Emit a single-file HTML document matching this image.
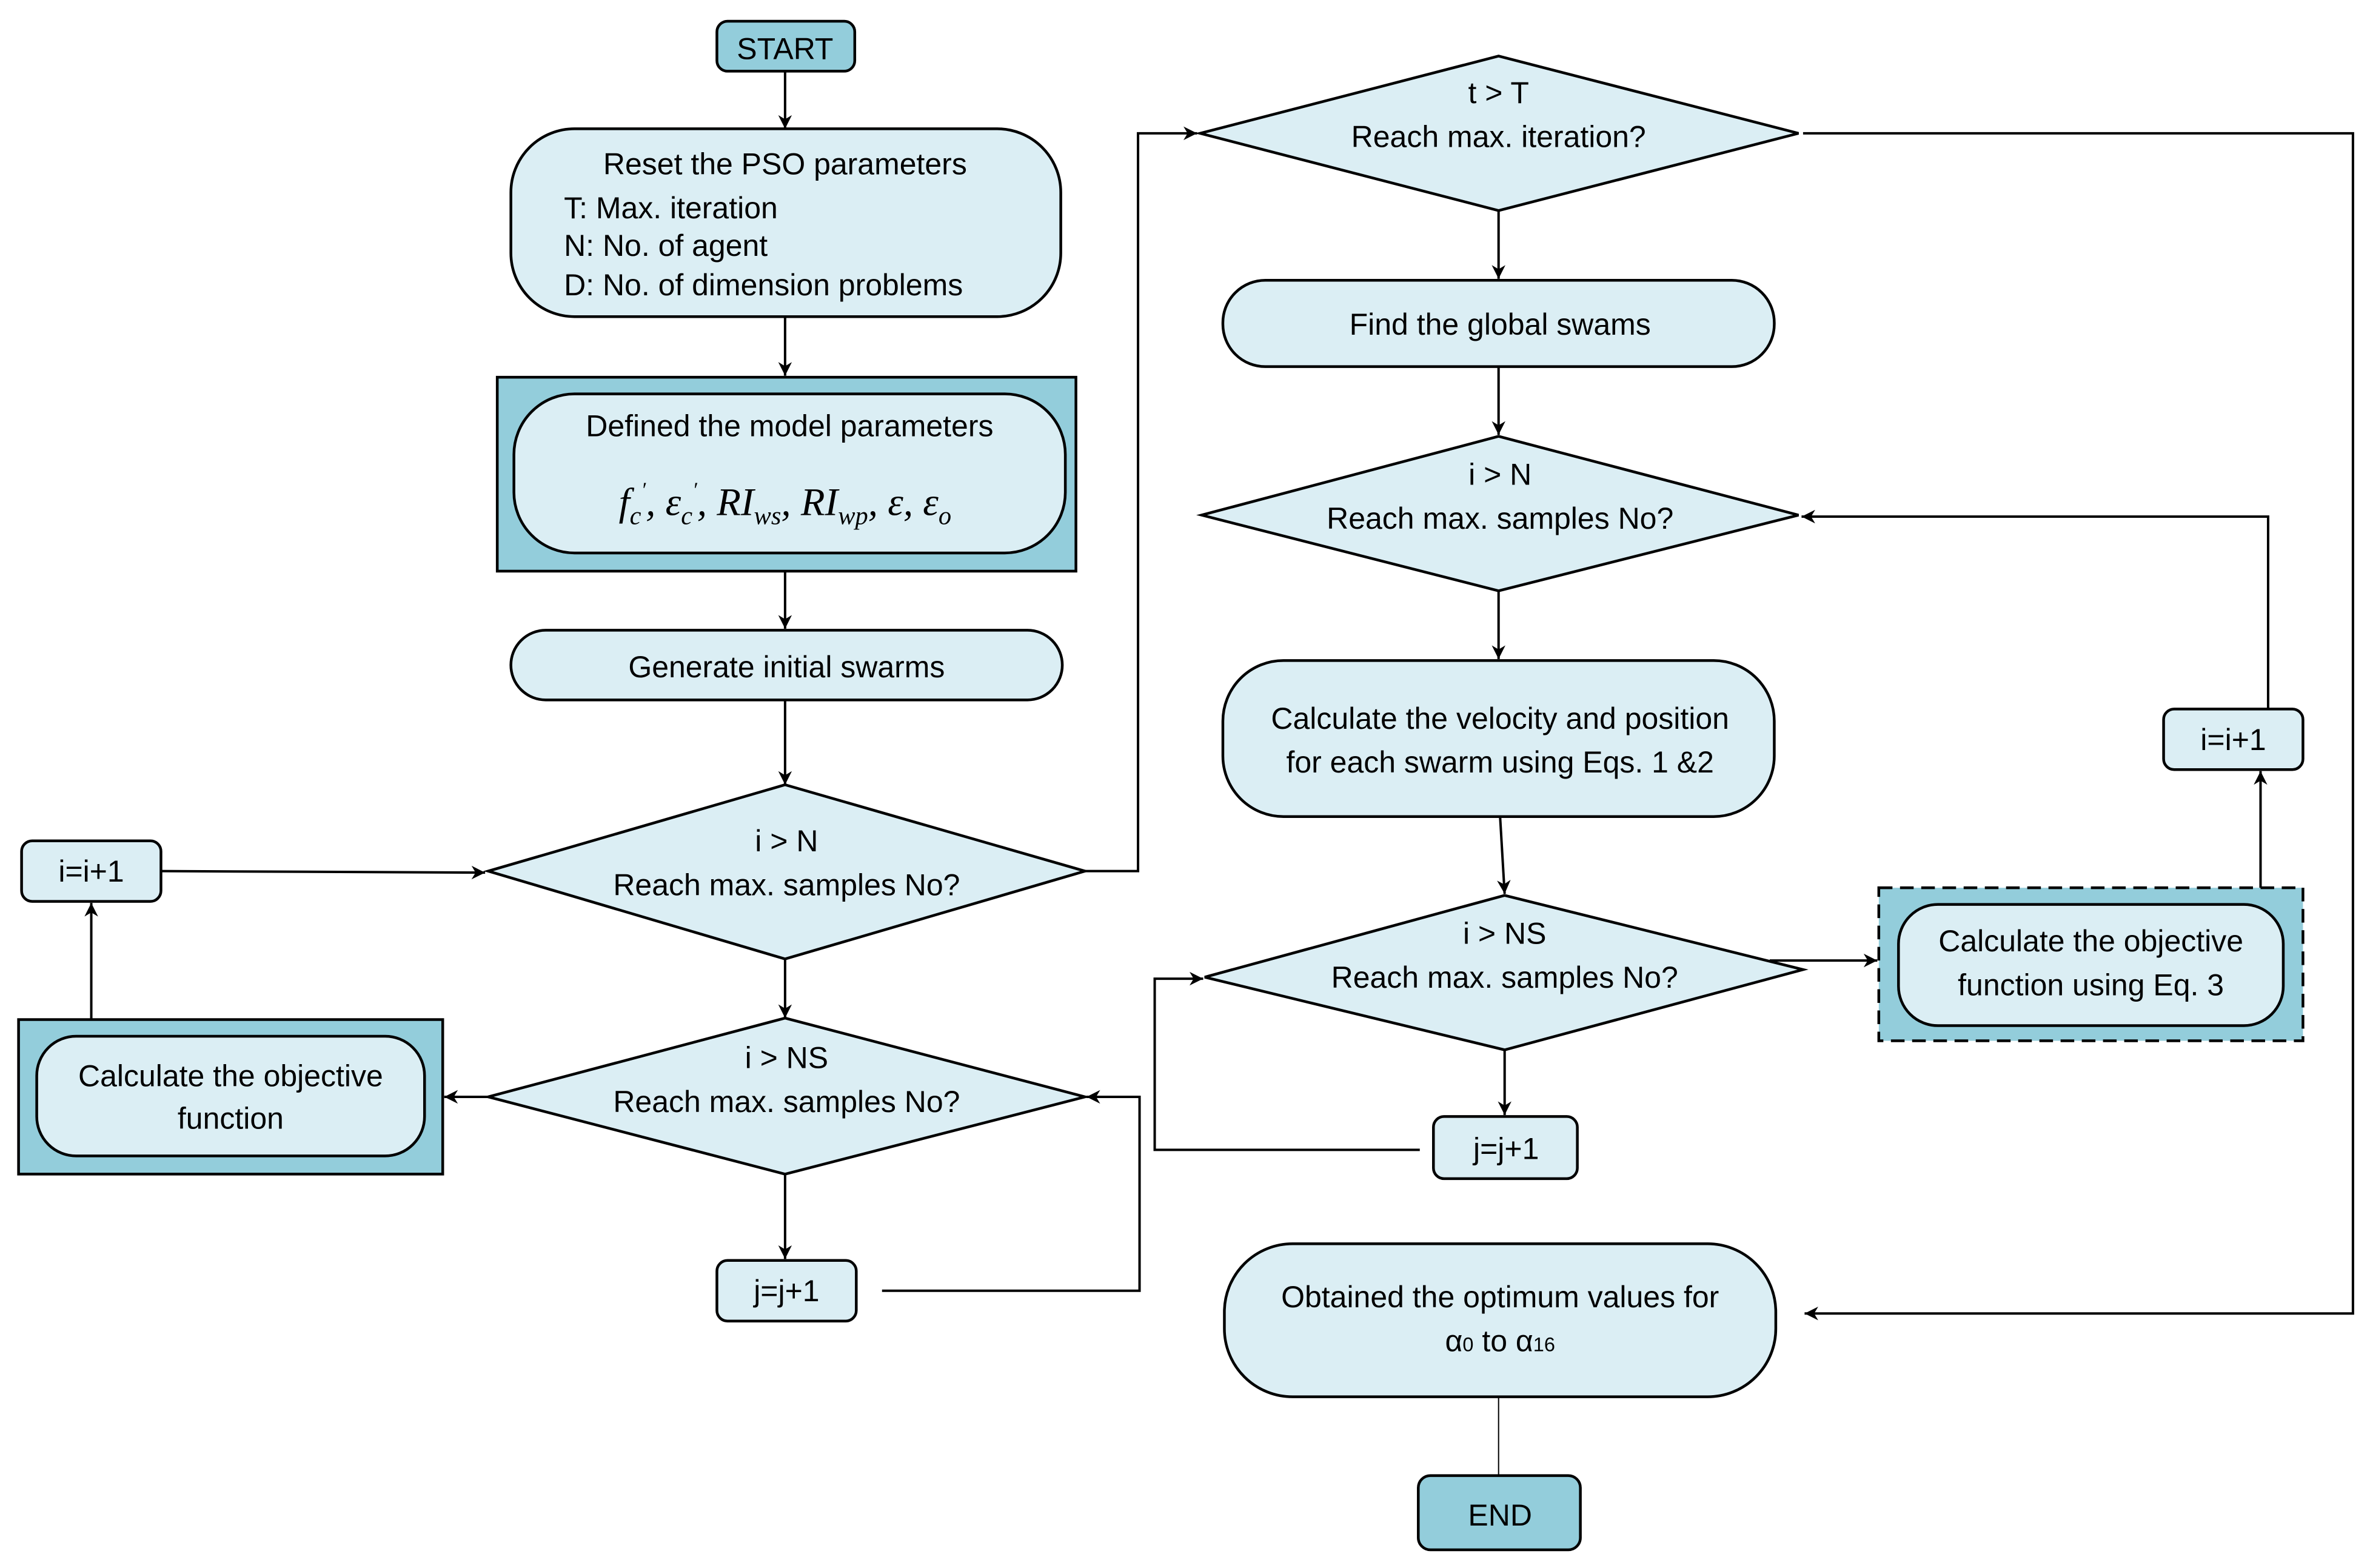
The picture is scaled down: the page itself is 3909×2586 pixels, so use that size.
<!DOCTYPE html>
<html><head><meta charset="utf-8"><style>
html,body{margin:0;padding:0;background:#fff;}
svg{display:block;}
text{font-family:"Liberation Sans Narrow","Liberation Sans",sans-serif;font-size:20px;fill:#000;text-anchor:middle;}
.l{text-anchor:start;}
.b{fill:#dbeef4;stroke:#000;stroke-width:1.8;}
.d{fill:#93cddb;stroke:#000;stroke-width:1.8;}
.c{fill:none;stroke:#000;stroke-width:1.6;}
</style></head><body>
<svg width="3909" height="2586" viewBox="0 0 1564 1035" xmlns="http://www.w3.org/2000/svg">
<defs><marker id="a" viewBox="0 0 10 10" refX="10" refY="5" markerWidth="6" markerHeight="6" markerUnits="userSpaceOnUse" orient="auto"><path d="M0,0 L10,5 L0,10 L3,5 z" fill="#000"/></marker>
<marker id="m" viewBox="0 0 10 10" refX="10" refY="5" markerWidth="9" markerHeight="9" markerUnits="userSpaceOnUse" orient="auto"><path d="M0,0 L10,5 L0,10 L3,5 z" fill="#000"/></marker></defs>

<!-- START -->
<rect class="d" x="473" y="14" width="91" height="33" rx="7"/>
<text x="518" y="39">START</text>
<line class="c" x1="518" y1="47" x2="518" y2="85" marker-end="url(#m)"/>

<rect class="b" x="337" y="85" width="363" height="124" rx="42"/>
<text x="518" y="115">Reset the PSO parameters</text>
<text class="l" x="372" y="144">T: Max. iteration</text>
<text class="l" x="372" y="169">N: No. of agent</text>
<text class="l" x="372" y="195">D: No. of dimension problems</text>
<line class="c" x1="518" y1="209" x2="518" y2="248" marker-end="url(#m)"/>

<rect class="d" x="328" y="249" width="382" height="128"/>
<rect class="b" x="339" y="260" width="364" height="105" rx="40"/>
<text x="521" y="288">Defined the model parameters</text>
<text x="518" y="340" style="font-family:'Liberation Serif',serif;font-style:italic;font-size:26px">f<tspan font-size="17" dy="6">c</tspan><tspan font-size="14" dy="-18">′</tspan><tspan dy="12">, ε</tspan><tspan font-size="17" dy="6">c</tspan><tspan font-size="14" dy="-18">′</tspan><tspan dy="12">, RI</tspan><tspan font-size="17" dy="6">ws</tspan><tspan dy="-6">, RI</tspan><tspan font-size="17" dy="6">wp</tspan><tspan dy="-6">, ε, ε</tspan><tspan font-size="17" dy="6">o</tspan></text>
<line class="c" x1="518" y1="377" x2="518" y2="415" marker-end="url(#m)"/>

<rect class="b" x="337" y="416" width="364" height="46" rx="23"/>
<text x="519" y="447">Generate initial swarms</text>
<line class="c" x1="518" y1="462" x2="518" y2="518" marker-end="url(#m)"/>

<polygon class="b" points="518,518 716,575 518,633 322,575"/>
<text x="519" y="562">i &gt; N</text>
<text x="519" y="591">Reach max. samples No?</text>

<rect class="b" x="14" y="555" width="92" height="40" rx="7"/>
<text x="60" y="582">i=i+1</text>
<line class="c" x1="106" y1="575" x2="320" y2="576" marker-end="url(#m)"/>

<line class="c" x1="518" y1="633" x2="518" y2="672" marker-end="url(#m)"/>
<polygon class="b" points="518,672 716,724 518,775 322,724"/>
<text x="519" y="705">i &gt; NS</text>
<text x="519" y="734">Reach max. samples No?</text>

<rect class="d" x="12" y="673" width="280" height="102"/>
<rect class="b" x="24" y="684" width="256" height="79" rx="26"/>
<text x="152" y="717">Calculate the objective</text>
<text x="152" y="745">function</text>
<line class="c" x1="322" y1="724" x2="293" y2="724" marker-end="url(#m)"/>
<line class="c" x1="60" y1="673" x2="60" y2="596" marker-end="url(#m)"/>

<line class="c" x1="518" y1="775" x2="518" y2="831" marker-end="url(#m)"/>
<rect class="b" x="473" y="832" width="92" height="40" rx="7"/>
<text x="519" y="859">j=j+1</text>
<polyline class="c" points="582,852 752,852 752,724 717,724" marker-end="url(#m)"/>

<polyline class="c" points="716,575 751,575 751,88 790,88" marker-end="url(#m)"/>

<polygon class="b" points="989,37 1187,88 989,139 792,88"/>
<text x="989" y="68">t &gt; T</text>
<text x="989" y="97">Reach max. iteration?</text>
<polyline class="c" points="1190,88 1553,88 1553,867 1191,867" marker-end="url(#m)"/>

<line class="c" x1="989" y1="139" x2="989" y2="184" marker-end="url(#m)"/>
<rect class="b" x="807" y="185" width="364" height="57" rx="28"/>
<text x="990" y="221">Find the global swams</text>
<line class="c" x1="989" y1="242" x2="989" y2="287" marker-end="url(#m)"/>

<polygon class="b" points="989,288 1187,340 989,390 793,340"/>
<text x="990" y="320">i &gt; N</text>
<text x="990" y="349">Reach max. samples No?</text>
<line class="c" x1="989" y1="390" x2="989" y2="435" marker-end="url(#m)"/>

<rect class="b" x="807" y="436" width="364" height="103" rx="40"/>
<text x="990" y="481">Calculate the velocity and position</text>
<text x="990" y="510">for each swarm using Eqs. 1 &amp;2</text>
<line class="c" x1="990" y1="539" x2="993" y2="590" marker-end="url(#m)"/>

<polygon class="b" points="993,591 1190,640 993,693 795,645"/>
<text x="993" y="623">i &gt; NS</text>
<text x="993" y="652">Reach max. samples No?</text>
<line class="c" x1="1168" y1="634" x2="1239" y2="634" marker-end="url(#m)"/>

<rect class="d" x="1240" y="586" width="280" height="101" style="stroke-dasharray:9,5"/>
<rect class="b" x="1253" y="597" width="254" height="80" rx="26"/>
<text x="1380" y="628">Calculate the objective</text>
<text x="1380" y="657">function using Eq. 3</text>
<line class="c" x1="1492" y1="586" x2="1492" y2="509" marker-end="url(#m)"/>
<rect class="b" x="1428" y="468" width="92" height="40" rx="7"/>
<text x="1474" y="495">i=i+1</text>
<polyline class="c" points="1497,468 1497,341 1189,341" marker-end="url(#m)"/>

<line class="c" x1="993" y1="693" x2="993" y2="736" marker-end="url(#m)"/>
<rect class="b" x="946" y="737" width="95" height="41" rx="7"/>
<text x="994" y="765">j=j+1</text>
<polyline class="c" points="937,759 762,759 762,646 794,646" marker-end="url(#m)"/>

<rect class="b" x="808" y="821" width="364" height="101" rx="45"/>
<text x="990" y="863">Obtained the optimum values for</text>
<text x="990" y="892">α<tspan font-size="13">0</tspan> to α<tspan font-size="13">16</tspan></text>
<line x1="989" y1="922" x2="989" y2="974" stroke="#000" stroke-width="0.8"/>
<rect class="d" x="936" y="974" width="107" height="49" rx="8"/>
<text x="990" y="1007">END</text>
</svg>
</body></html>
